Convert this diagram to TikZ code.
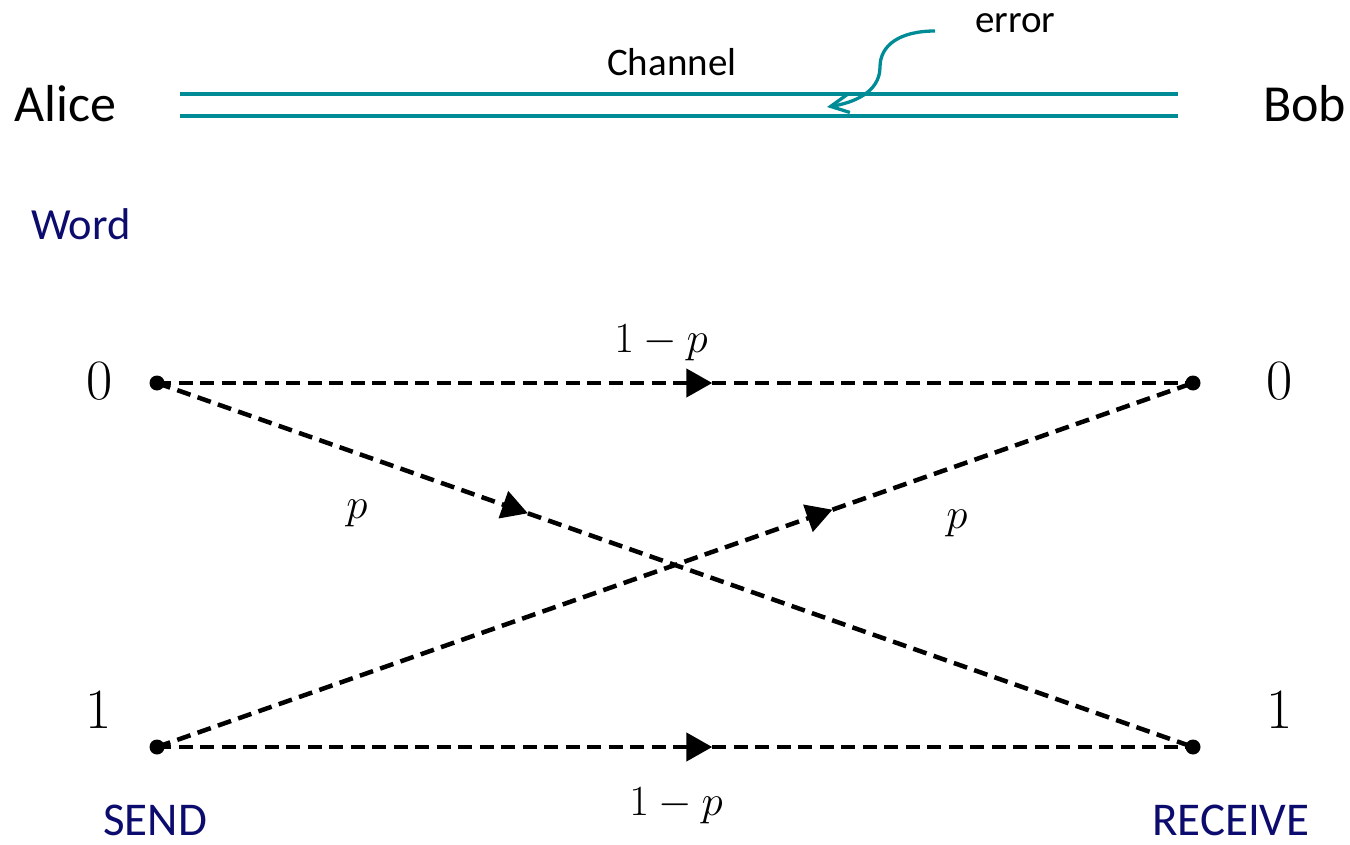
\RequirePackage{fix-cm}
\documentclass[tikz,border=0pt]{standalone}
\usepackage[no-math]{fontspec}
\setmainfont{Carlito}
\usetikzlibrary{arrows.meta}
\definecolor{chanteal}{RGB}{0,140,150}
\definecolor{labnavy}{RGB}{12,12,110}
\begin{document}
\begin{tikzpicture}[x=1pt,y=-1pt,
  dot/.style={circle,fill=black,inner sep=0pt,minimum size=15pt},
  chan/.style={draw=chanteal,line width=3.3pt},
  sanslab/.style={anchor=base west,inner sep=0pt,font=\fontsize{#1}{#1}\selectfont},
  navylab/.style={sanslab=#1,text=labnavy},
  digitlab/.style={inner sep=0pt,font=\fontsize{57}{60}\selectfont},
  mathlab/.style={inner sep=0pt,font=\fontsize{43}{48}\selectfont},
  trans/.style={line width=4.5pt,dash pattern=on 14pt off 7.5pt},
  transhead/.style={trans,-{Triangle[length=26pt,width=28pt]}}
]
\useasboundingbox (0,0) rectangle (1350,845);

% channel
\node[sanslab=52] (alice) at (14,122) {Alice};
\node[sanslab=52] (bob) at (1263,122) {Bob};
\node[sanslab=39] (chan) at (607,76) {Channel};
\node[sanslab=39] (err) at (975,33) {error};
\coordinate (c1l) at (180,94);
\coordinate (c1r) at (1178,94);
\coordinate (c2l) at (180,116);
\coordinate (c2r) at (1178,116);
\draw[chan] (c1l) -- (c1r);
\draw[chan] (c2l) -- (c2r);
\coordinate (es) at (935,31);
\coordinate (et) at (827,107);
\draw[chanteal,line width=3.3pt,-{Straight Barb[length=18pt,width=18pt]}]
  (es) .. controls (900,31) and (880,45) .. (880,67)
       .. controls (880,93) and (852,103) .. (et);

% navy labels
\node[navylab=44.5] (word) at (31,240) {Word};
\node[navylab=47] (send) at (103,835) {SEND};
\node[navylab=47] (recv) at (1152,835) {RECEIVE};

% dots
\node[dot] (s0) at (157,383) {};
\node[dot] (s1) at (157,747) {};
\node[dot] (r0) at (1193,383) {};
\node[dot] (r1) at (1193,747) {};

% digit labels
\node[digitlab] (ls0) at (100,381) {$0$};
\node[digitlab] (ls1) at (99,710) {$1$};
\node[digitlab] (lr0) at (1280,381) {$0$};
\node[digitlab] (lr1) at (1280,710) {$1$};

% arrow tip positions
\path (s0.center) -- (r0.center) coordinate[pos=0.536] (m00);
\path (s1.center) -- (r1.center) coordinate[pos=0.536] (m11);
\path (s0.center) -- (r1.center) coordinate[pos=0.358] (m01);
\path (s1.center) -- (r0.center) coordinate[pos=0.652] (m10);

% transitions
\draw[transhead] (s0.center) -- (m00);
\draw[trans] (m00) -- (r0.center);
\draw[transhead] (s1.center) -- (m11);
\draw[trans] (m11) -- (r1.center);
\draw[transhead] (s0.center) -- (m01);
\draw[trans] (m01) -- (r1.center);
\draw[transhead] (s1.center) -- (m10);
\draw[trans] (m10) -- (r0.center);

% probabilities
\node[mathlab,anchor=base] (ptop) at (661,352) {$1-p$};
\node[mathlab,anchor=base] (pbot) at (676,815) {$1-p$};
\node[mathlab,anchor=base] (pl) at (357,518) {$p$};
\node[mathlab,anchor=base] (pr) at (957,528) {$p$};
\end{tikzpicture}
\end{document}
